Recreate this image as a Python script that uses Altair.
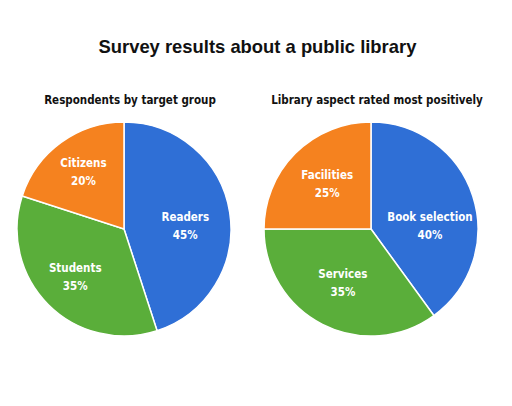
import altair as alt
import pandas as pd

main_title = "Survey results about a public library"
left_title = "Respondents by target group"
left_cats = ["Readers", "Students", "Citizens"]
left_vals = [45, 35, 20]
right_title = "Library aspect rated most positively"
right_cats = ["Book selection", "Services", "Facilities"]
right_vals = [40, 35, 25]
colors = ["#2f6fd6", "#5aae3a", "#f5821f"]

LABEL_FONT = "DejaVu Sans Condensed, Liberation Sans, sans-serif"


def pie(cats, vals, sub, first_shift, rest_radius):
    df = pd.DataFrame({
        "cat": cats,
        "val": vals,
        "order": list(range(len(cats))),
        "pct": [f"{v}%" for v in vals],
    })
    base = alt.Chart(df).encode(
        theta=alt.Theta("val:Q", stack=True),
        order=alt.Order("order:Q"),
    )
    arc = base.mark_arc(stroke="white", strokeWidth=1.5).encode(
        color=alt.Color("order:N", scale=alt.Scale(domain=[0, 1, 2], range=colors), legend=None)
    )
    txt = dict(color="white", font=LABEL_FONT, fontSize=11.5, fontWeight="bold")
    layers = [arc]
    for cond, shift, rad in [("datum.order == 0", first_shift, 62), ("datum.order > 0", 0, rest_radius)]:
        layers.append(
            base.transform_calculate(lab=f"{cond} ? datum.cat : ''")
            .mark_text(dy=-9 + shift, radius=rad, **txt).encode(text="lab:N")
        )
        layers.append(
            base.transform_calculate(lab=f"{cond} ? datum.pct : ''")
            .mark_text(dy=9 + shift, radius=rad, **txt).encode(text="lab:N")
        )
    return alt.layer(*layers).properties(
        width=214, height=214,
        title=alt.TitleParams(sub, font=LABEL_FONT, fontSize=11.5, fontWeight="bold",
                              color="#111111", offset=13, dx=6, anchor="middle"),
    )


chart = alt.hconcat(
    pie(left_cats, left_vals, left_title, 8, 69),
    pie(right_cats, right_vals, right_title, 17, 62),
    spacing=27,
).properties(
    title=alt.TitleParams(main_title, font="Liberation Sans", fontSize=18.4, fontWeight="bold",
                          color="#111111", offset=38, dx=9, anchor="middle"),
    padding={"left": 6, "top": 30, "right": 20, "bottom": 0},
).configure_view(stroke=None)

chart.save("out.html", embed_options={"renderer": "svg", "actions": False})
